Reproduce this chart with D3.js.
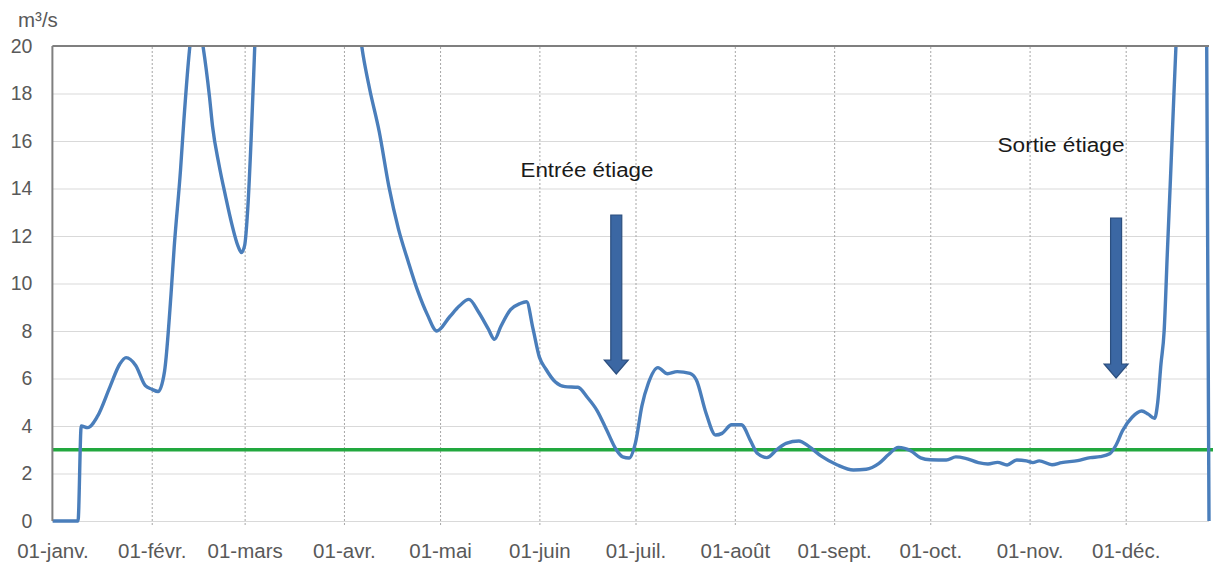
<!DOCTYPE html>
<html>
<head>
<meta charset="utf-8">
<script src="https://cdn.jsdelivr.net/npm/d3@7"></script>
<style>
  html, body { margin: 0; padding: 0; background: #fff; }
  svg { display: block; }
</style>
</head>
<body>
<svg id="chart" width="1213" height="562"></svg>
<script>
// ---- data ----
const flowDates = [
  "2016-01-01","2016-01-09","2016-01-10","2016-01-12","2016-01-15","2016-01-19","2016-01-22","2016-01-24","2016-01-27","2016-01-30",
  "2016-02-01","2016-02-03","2016-02-05","2016-02-07","2016-02-08","2016-02-10","2016-02-11","2016-02-13","2016-02-15","2016-02-17",
  "2016-02-19","2016-02-20","2016-02-22","2016-02-24","2016-02-26","2016-02-28","2016-02-29","2016-03-01","2016-03-02","2016-03-03",
  "2016-03-04","2016-03-05","2016-03-11","2016-03-21","2016-03-31","2016-04-05","2016-04-07","2016-04-09","2016-04-12","2016-04-15",
  "2016-04-18","2016-04-21","2016-04-24","2016-04-27","2016-04-30","2016-05-04","2016-05-07","2016-05-10","2016-05-13","2016-05-16",
  "2016-05-18","2016-05-20","2016-05-23","2016-05-26","2016-05-28","2016-05-30","2016-06-01","2016-06-03","2016-06-06","2016-06-09",
  "2016-06-13","2016-06-16","2016-06-19","2016-06-22","2016-06-25","2016-06-27","2016-06-29","2016-07-01","2016-07-03","2016-07-05",
  "2016-07-08","2016-07-11","2016-07-14","2016-07-18","2016-07-20","2016-07-23","2016-07-26","2016-07-28","2016-07-31","2016-08-03",
  "2016-08-06","2016-08-08","2016-08-11","2016-08-14","2016-08-17","2016-08-21","2016-08-24","2016-08-28","2016-09-02","2016-09-07",
  "2016-09-11","2016-09-15","2016-09-18","2016-09-21","2016-09-25","2016-09-28","2016-10-01","2016-10-06","2016-10-09","2016-10-12",
  "2016-10-16","2016-10-19","2016-10-22","2016-10-25","2016-10-28","2016-10-31","2016-11-02","2016-11-04","2016-11-08","2016-11-11",
  "2016-11-16","2016-11-20","2016-11-23","2016-11-26","2016-11-28","2016-11-30","2016-12-03","2016-12-06","2016-12-08","2016-12-10",
  "2016-12-11","2016-12-12","2016-12-13","2016-12-14","2016-12-15","2016-12-16","2016-12-17","2016-12-19","2016-12-23","2016-12-26",
  "2016-12-27"
];
const flowValues = [
  0, 0, 4.0, 3.93, 4.39, 5.66, 6.6, 6.88, 6.55, 5.7,
  5.55, 5.45, 6.3, 9.5, 11.5, 14.8, 16.8, 20.1, 21.5, 20.0,
  17.9, 16.6, 15.0, 13.7, 12.5, 11.55, 11.3, 11.6, 13.2, 16.0,
  19.4, 23, 30, 32, 27, 21.5, 19.6, 18.2, 16.4, 14.1,
  12.3, 10.95, 9.7, 8.7, 8.0, 8.6, 9.05, 9.33, 8.8, 8.1,
  7.65, 8.2, 8.9, 9.16, 9.23, 8.1, 6.9, 6.4, 5.85, 5.66,
  5.63, 5.2, 4.65, 3.83, 3.0, 2.7, 2.65, 3.3, 4.85, 5.8,
  6.46, 6.2, 6.29, 6.22, 5.94, 4.55, 3.62, 3.69, 4.05, 4.05,
  3.35, 2.85, 2.67, 2.99, 3.27, 3.37, 3.15, 2.73, 2.36, 2.15,
  2.18, 2.43, 2.8, 3.1, 2.95, 2.66, 2.58, 2.57, 2.7, 2.64,
  2.46, 2.4, 2.47, 2.36, 2.57, 2.53, 2.46, 2.53, 2.37, 2.46,
  2.54, 2.67, 2.71, 2.83, 3.2, 3.8, 4.37, 4.63, 4.5, 4.32,
  5.0, 6.6, 8.0, 11.3, 14.5, 17.8, 21, 27, 30, 28,
  0
];
const thresholdValue = 3;
const monthTickDates = ["2016-01-01","2016-02-01","2016-03-01","2016-04-01","2016-05-01","2016-06-01",
                        "2016-07-01","2016-08-01","2016-09-01","2016-10-01","2016-11-01","2016-12-01"];
const monthTickLabels = ["01-janv.","01-févr.","01-mars","01-avr.","01-mai","01-juin",
                         "01-juil.","01-août","01-sept.","01-oct.","01-nov.","01-déc."];
const yTickValues = [0, 2, 4, 6, 8, 10, 12, 14, 16, 18, 20];
const unitLabel = "m³/s";
const annotationLabels = ["Entrée étiage", "Sortie étiage"];
const annotationDates = ["2016-06-25", "2016-11-28"];

// ---- layout ----
const parse = d3.utcParse("%Y-%m-%d");
const padL = 52.4, padR = 1209, padT = 46, padB = 521;
const svg = d3.select("#chart");
const font = "'Liberation Sans', Arial, sans-serif";

const x = d3.scaleUtc().domain([parse("2016-01-01"), parse("2016-12-27")]).range([padL, padR]);
const y = d3.scaleLinear().domain([0, 20]).range([padB, padT]);

const data = flowDates.map((d, i) => ({ date: parse(d), value: flowValues[i] }));

// horizontal gridlines
svg.append("g")
  .attr("transform", `translate(${padL},0)`)
  .call(d3.axisLeft(y).tickValues(yTickValues).tickSize(-(padR - padL)).tickFormat(""))
  .call(g => g.select(".domain").remove())
  .call(g => g.selectAll("line").attr("stroke", "#d9d9d9").attr("stroke-width", 1.2));

// vertical dashed gridlines
svg.append("g")
  .attr("transform", `translate(0,${padB + 4})`)
  .call(d3.axisBottom(x).tickValues(monthTickDates.slice(1).map(parse)).tickSize(-(padB + 4 - padT)).tickFormat(""))
  .call(g => g.select(".domain").remove())
  .call(g => g.selectAll("line").attr("stroke", "#a6a6a6").attr("stroke-width", 1).attr("stroke-dasharray", "2,2"));

// x tick labels
svg.append("g")
  .attr("transform", `translate(0,${padB})`)
  .call(d3.axisBottom(x).tickValues(monthTickDates.map(parse)).tickSize(0).tickPadding(22)
        .tickFormat((d, i) => monthTickLabels[i]))
  .call(g => g.select(".domain").remove())
  .call(g => g.selectAll("text").attr("fill", "#595959").style("font-family", font).style("font-size", "20.5px"));

// y tick labels
svg.append("g")
  .attr("transform", `translate(${padL},0)`)
  .call(d3.axisLeft(y).tickValues(yTickValues).tickSize(0).tickPadding(20))
  .call(g => g.select(".domain").remove())
  .call(g => g.selectAll("text").attr("fill", "#595959").style("font-family", font).style("font-size", "19.5px"));

// unit label
svg.append("text").attr("x", 18).attr("y", 27).attr("fill", "#595959")
  .style("font-family", font).style("font-size", "20.5px").text(unitLabel);

// clip
svg.append("clipPath").attr("id", "plotclip")
  .append("rect").attr("x", padL).attr("y", padT).attr("width", 1213 - padL).attr("height", padB - padT + 3);

// threshold line
svg.append("line")
  .attr("x1", padL).attr("x2", 1213)
  .attr("y1", y(thresholdValue)).attr("y2", y(thresholdValue))
  .attr("stroke", "#22a83f").attr("stroke-width", 3.5);

// flow line
const line = d3.line().x(d => x(d.date)).y(d => y(d.value)).curve(d3.curveMonotoneX);
svg.append("path")
  .datum(data)
  .attr("clip-path", "url(#plotclip)")
  .attr("fill", "none")
  .attr("stroke", "#4a7ebb")
  .attr("stroke-width", 3.4)
  .attr("stroke-linejoin", "round")
  .attr("d", line);

// axes borders (left and top)
svg.append("line").attr("x1", padL).attr("x2", padL).attr("y1", padT).attr("y2", padB)
  .attr("stroke", "#7f7f7f").attr("stroke-width", 2);
svg.append("line").attr("x1", padL).attr("x2", padR).attr("y1", padT).attr("y2", padT)
  .attr("stroke", "#7f7f7f").attr("stroke-width", 2);

// arrows
const arrowSpecs = [
  { date: annotationDates[0], y0: 215, y1: 374, tx: 587, ty: 177, w: 133 },
  { date: annotationDates[1], y0: 218, y1: 378, tx: 1061, ty: 152, w: 127 }
];
arrowSpecs.forEach((a, i) => {
  const cx = x(parse(a.date));
  const sw = 5.5, hw = 12, hh = 14;
  const p = d3.path();
  p.moveTo(cx - sw, a.y0);
  p.lineTo(cx + sw, a.y0);
  p.lineTo(cx + sw, a.y1 - hh);
  p.lineTo(cx + hw, a.y1 - hh);
  p.lineTo(cx, a.y1);
  p.lineTo(cx - hw, a.y1 - hh);
  p.lineTo(cx - sw, a.y1 - hh);
  p.closePath();
  svg.append("path").attr("d", p.toString())
    .attr("fill", "#3b67a3").attr("stroke", "#2c4f7f").attr("stroke-width", 1.2);
  svg.append("text").attr("x", a.tx).attr("y", a.ty)
    .attr("text-anchor", "middle").attr("fill", "#1a1a1a")
    .attr("textLength", a.w).attr("lengthAdjust", "spacingAndGlyphs")
    .style("font-family", font).style("font-size", "20px")
    .text(annotationLabels[i]);
});
</script>
</body>
</html>
